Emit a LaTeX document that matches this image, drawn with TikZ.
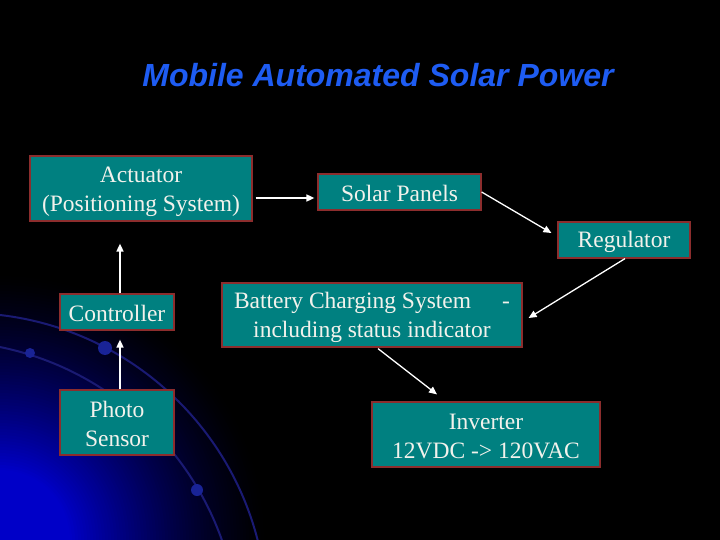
\documentclass[tikz,border=0pt]{standalone}
\usepackage{fontspec}
\setmainfont{Liberation Serif}
\newfontfamily\titlefont{Liberation Sans}
\usetikzlibrary{arrows.meta}
\definecolor{boxfill}{RGB}{0,128,128}
\definecolor{boxline}{RGB}{140,45,45}
\definecolor{boxtext}{RGB}{242,242,236}
\definecolor{titleblue}{RGB}{30,92,242}
\definecolor{arcblue}{RGB}{26,26,115}
\definecolor{dotblue}{RGB}{25,35,150}
\definecolor{glowcore}{RGB}{0,0,200}
\tikzset{
  blockbox/.style={draw=boxline, line width=1.2pt, fill=boxfill, inner sep=0pt},
  blocktext/.style={text=boxtext, inner sep=0pt, align=center, font=\fontsize{23.5}{29}\selectfont},
  flowarrow/.style={draw=white, line width=1.6pt, -{Triangle[length=8pt,width=7pt]}},
  deco/.style={draw=arcblue, line width=2pt},
}
\begin{document}
\begin{tikzpicture}[x=1pt,y=-1pt]
\useasboundingbox (0,0) rectangle (720,540);
\fill[black] (0,0) rectangle (720,540);
\begin{scope}
\clip (0,0) rectangle (720,540);
\foreach \r in {270,267,...,72} {
  \pgfmathtruncatemacro\v{200*((270-\r)/200)^1.4}
  \definecolor{glowstep}{RGB}{0,0,\v}
  \fill[glowstep] (0,540) circle (\r);
}
\fill[glowcore] (0,540) circle (70);
\draw[deco] (-35,615) circle (302);
\draw[deco] (-60,640) circle (299);
\fill[dotblue] (105,348) circle (7);
\fill[dotblue] (30,353) circle (5);
\fill[dotblue] (197,490) circle (6);
\end{scope}
\node[text=titleblue, font=\titlefont\bfseries\itshape\fontsize{32}{38}\selectfont] (title) at (378,75) {Mobile Automated Solar Power};

\node[blockbox, minimum width=222, minimum height=65] (act) at (141,188.5) {};
\node[blockbox, minimum width=163, minimum height=36] (sol) at (399.5,192) {};
\node[blockbox, minimum width=132, minimum height=36] (reg) at (624,240) {};
\node[blockbox, minimum width=114, minimum height=36] (ctl) at (117,312) {};
\node[blockbox, minimum width=300, minimum height=64] (bat) at (372,315) {};
\node[blockbox, minimum width=114, minimum height=65] (pho) at (117,422.5) {};
\node[blockbox, minimum width=228, minimum height=65] (inv) at (486,434.5) {};

\node[blocktext] (acttext) at ([yshift=-3pt]act.center) {Actuator\\(Positioning System)};
\node[blocktext] (soltext) at ([yshift=-1pt]sol.center) {Solar Panels};
\node[blocktext] (regtext) at ([yshift=-2pt]reg.center) {Regulator};
\node[blocktext] (ctltext) at ([yshift=-1pt]ctl.center) {Controller};
\node[blocktext] (battext) at ([yshift=-2.5pt]bat.center) {Battery Charging System\hspace{31pt}-\\including status indicator};
\node[blocktext] (photext) at ([yshift=-1pt]pho.center) {Photo\\Sensor};
\node[blocktext] (invtext) at ([yshift=-2pt]inv.center) {Inverter\\12VDC -> 120VAC};

\draw[flowarrow] ([shift={(3,9.5)}]act.east) -- ([shift={(-3,6)}]sol.west);
\draw[flowarrow, line width=1.3pt] (sol.east) -- ([shift={(-6,-7)}]reg.west);
\draw[flowarrow, line width=1.3pt] ([shift={(1,0)}]reg.south) -- ([shift={(6,3)}]bat.east);
\draw[flowarrow, line width=1.3pt] ([shift={(6,1)}]bat.south) -- ([shift={(-49,-7)}]inv.north);
\draw[flowarrow] ([shift={(3,0)}]ctl.north) -- ([shift={(-21,22)}]act.south);
\draw[flowarrow] ([shift={(3,0)}]pho.north) -- ([shift={(3,9)}]ctl.south);
\end{tikzpicture}
\end{document}
